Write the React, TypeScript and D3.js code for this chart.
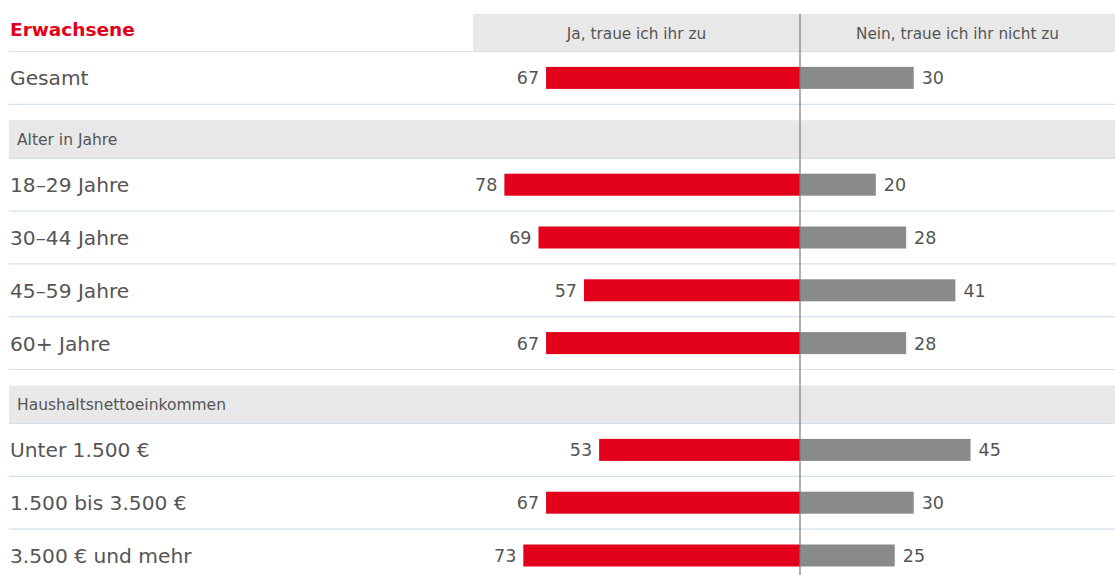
import React from "react";
import * as d3 from "d3";

const title = "Erwachsene";
const headerYes = "Ja, traue ich ihr zu";
const headerNo = "Nein, traue ich ihr nicht zu";

const totalLabels = ["Gesamt"];
const totalYes = [67];
const totalNo = [30];

const section1 = "Alter in Jahre";
const ageLabels = ["18–29 Jahre", "30–44 Jahre", "45–59 Jahre", "60+ Jahre"];
const ageYes = [78, 69, 57, 67];
const ageNo = [20, 28, 41, 28];

const section2 = "Haushaltsnettoeinkommen";
const incomeLabels = ["Unter 1.500 €", "1.500 bis 3.500 €", "3.500 € und mehr"];
const incomeYes = [53, 67, 73];
const incomeNo = [45, 30, 25];

const W = 1115;
const H = 575;
const CX = 800;
const RED = "#e2001a";
const GREY = "#898a8b";
const TXT = "#555555";
const SEP = "#d5e0ef";
const BAND = "#e8e8e8";
const FONT = "'DejaVu Sans', sans-serif";

type Row =
  | { kind: "data"; label: string; yes: number; no: number }
  | { kind: "gap" }
  | { kind: "section"; label: string };

export default function App() {
  const rows: Row[] = [];
  totalLabels.forEach((l, i) => rows.push({ kind: "data", label: l, yes: totalYes[i], no: totalNo[i] }));
  rows.push({ kind: "gap" });
  rows.push({ kind: "section", label: section1 });
  ageLabels.forEach((l, i) => rows.push({ kind: "data", label: l, yes: ageYes[i], no: ageNo[i] }));
  rows.push({ kind: "gap" });
  rows.push({ kind: "section", label: section2 });
  incomeLabels.forEach((l, i) => rows.push({ kind: "data", label: l, yes: incomeYes[i], no: incomeNo[i] }));

  const rowH = { data: 52.8, gap: 16, section: 38 } as const;
  const x = d3.scaleLinear().domain([0, 100]).range([0, 379]);
  const barH = 22;

  let y = 51.5;
  const placed = rows.map((r) => {
    const top = y;
    y += rowH[r.kind];
    return { r, top, h: rowH[r.kind] };
  });

  return (
    <svg
      width={W}
      height={H}
      style={{ position: "absolute", left: 0, top: 0, background: "#fff" }}
      fontFamily={FONT}
    >
      {/* header */}
      <rect x={473} y={14} width={W - 473} height={37.5} fill={BAND} />
      <text x={10} y={35.5} fill={RED} fontSize={18.5} fontWeight={700}>
        {title}
      </text>
      <text x={(473 + CX) / 2} y={38.5} fill={TXT} fontSize={15.3} textAnchor="middle">
        {headerYes}
      </text>
      <text x={(CX + W) / 2} y={38.5} fill={TXT} fontSize={15.3} textAnchor="middle">
        {headerNo}
      </text>
      <line x1={9} x2={W} y1={51.5} y2={51.5} stroke={SEP} strokeWidth={1.2} />

      {placed.map(({ r, top, h }, i) => {
        if (r.kind === "gap") return null;
        if (r.kind === "section") {
          return (
            <g key={i}>
              <rect x={9} y={top} width={W - 9} height={h} fill={BAND} />
              <line x1={9} x2={W} y1={top + h} y2={top + h} stroke={SEP} strokeWidth={1.2} />
              <text x={17} y={top + h / 2 + 5.5} fill={TXT} fontSize={15.5}>
                {r.label}
              </text>
            </g>
          );
        }
        const cy = top + h / 2;
        return (
          <g key={i}>
            <text x={10} y={cy + 7.5} fill={TXT} fontSize={20.2}>
              {r.label}
            </text>
            <rect x={CX - x(r.yes)} y={cy - barH / 2} width={x(r.yes)} height={barH} fill={RED} />
            <rect x={CX} y={cy - barH / 2} width={x(r.no)} height={barH} fill={GREY} />
            <text x={CX - x(r.yes) - 7} y={cy + 6.5} fill={TXT} fontSize={17.5} textAnchor="end">
              {r.yes}
            </text>
            <text x={CX + x(r.no) + 8} y={cy + 6.5} fill={TXT} fontSize={17.5}>
              {r.no}
            </text>
            <line x1={9} x2={W} y1={top + h} y2={top + h} stroke={SEP} strokeWidth={1.2} />
          </g>
        );
      })}

      <line x1={CX} x2={CX} y1={14} y2={H} stroke="#7a7a7a" strokeWidth={1.2} />
    </svg>
  );
}
